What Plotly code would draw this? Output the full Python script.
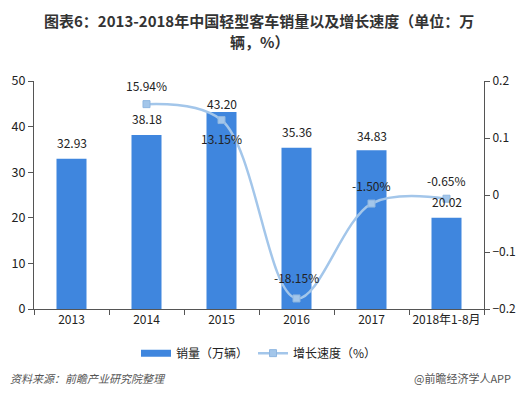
import plotly.graph_objects as go

categories = ["2013", "2014", "2015", "2016", "2017", "2018年1-8月"]
sales = [32.93, 38.18, 43.20, 35.36, 34.83, 20.02]
growth_cats = ["2014", "2015", "2016", "2017", "2018年1-8月"]
growth = [0.1594, 0.1315, -0.1815, -0.0150, -0.0065]
growth_labels = ["15.94%", "13.15%", "-18.15%", "-1.50%", "-0.65%"]

FONT = "Noto Sans CJK SC, Microsoft YaHei, sans-serif"
BAR = "#3f86de"
LINE = "#a3c6ea"

fig = go.Figure()
fig.add_trace(go.Bar(
    x=categories, y=sales, name="销量（万辆）",
    marker=dict(color=BAR, line=dict(width=0)), width=0.4,
    yaxis="y", showlegend=False,
))
# legend-only swatch mimicking the wide bar legend key
fig.add_trace(go.Scatter(
    x=[None], y=[None], name="销量（万辆）", mode="lines",
    line=dict(color=BAR, width=7), yaxis="y", hoverinfo="skip",
))
fig.add_trace(go.Scatter(
    x=growth_cats, y=growth, name="增长速度（%）",
    mode="lines+markers", yaxis="y2",
    line=dict(color=LINE, width=2.5, shape="spline", smoothing=1),
    marker=dict(symbol="square", size=7, color=LINE, line=dict(color="#8fb6e0", width=1)),
))

bar_shift = [16, 16, 9, 16, 15, 16]
for c, v, s in zip(categories, sales, bar_shift):
    fig.add_annotation(x=categories.index(c), y=v, yref="y", text=f"{v:.2f}", showarrow=False,
                       yshift=s, font=dict(size=12, color="#222", family=FONT))

line_shift = [19, -18, 21, 18, 18]
for c, v, t, s in zip(growth_cats, growth, growth_labels, line_shift):
    fig.add_annotation(x=categories.index(c), y=v, yref="y2", text=t, showarrow=False,
                       yshift=s, font=dict(size=12, color="#222", family=FONT))

fig.add_annotation(xref="paper", yref="paper", x=0.5, y=1, yshift=61, yanchor="middle",
                   text="<b>图表6：2013-2018年中国轻型客车销量以及增长速度（单位：万</b>",
                   showarrow=False, font=dict(size=15, color="#333", family=FONT))
fig.add_annotation(xref="paper", yref="paper", x=0.5, y=1, yshift=40, yanchor="middle",
                   text="<b>辆，%）</b>",
                   showarrow=False, font=dict(size=15, color="#333", family=FONT))
fig.add_annotation(xref="paper", yref="paper", x=-0.058, xanchor="left", y=0, yshift=-69,
                   yanchor="middle", text="<i>资料来源：前瞻产业研究院整理</i>",
                   showarrow=False, font=dict(size=11, color="#555", family=FONT))
fig.add_annotation(xref="paper", yref="paper", x=1.065, xanchor="right", y=0, yshift=-69,
                   yanchor="middle", text="@前瞻经济学人APP",
                   showarrow=False, font=dict(size=11, color="#555", family=FONT))

fig.update_layout(
    width=519, height=399,
    margin=dict(l=34, r=35, t=81, b=90, autoexpand=False),
    paper_bgcolor="white", plot_bgcolor="white",
    font=dict(family=FONT, size=12, color="#222"),
    showlegend=True,
    legend=dict(orientation="h", x=0.5, xanchor="center", y=-0.13, yanchor="top",
                font=dict(size=12, color="#222", family=FONT), itemwidth=30),
    xaxis=dict(type="category", categoryorder="array", categoryarray=categories,
               range=[-0.5, 5.5], autorange=False, tickangle=0, automargin=False,
               showline=True, linecolor="#555", linewidth=1, ticks="outside",
               ticklen=5, tickcolor="#555", tickson="boundaries", showgrid=False,
               tickfont=dict(size=12, color="#222")),
    yaxis=dict(range=[0, 50], dtick=10, showline=True, linecolor="#555", linewidth=1,
               ticks="outside", ticklen=5, tickcolor="#555", showgrid=False, zeroline=False,
               automargin=False, tickfont=dict(size=12.5, color="#222")),
    yaxis2=dict(range=[-0.2, 0.2], dtick=0.1, overlaying="y", side="right",
                showline=True, linecolor="#555", linewidth=1, ticks="outside", ticklen=5,
                tickcolor="#555", showgrid=False, zeroline=False, automargin=False,
                tickfont=dict(size=12, color="#222")),
)

fig.write_html("out.html", config={"displayModeBar": False},
               post_script="document.body.style.margin='0';")
